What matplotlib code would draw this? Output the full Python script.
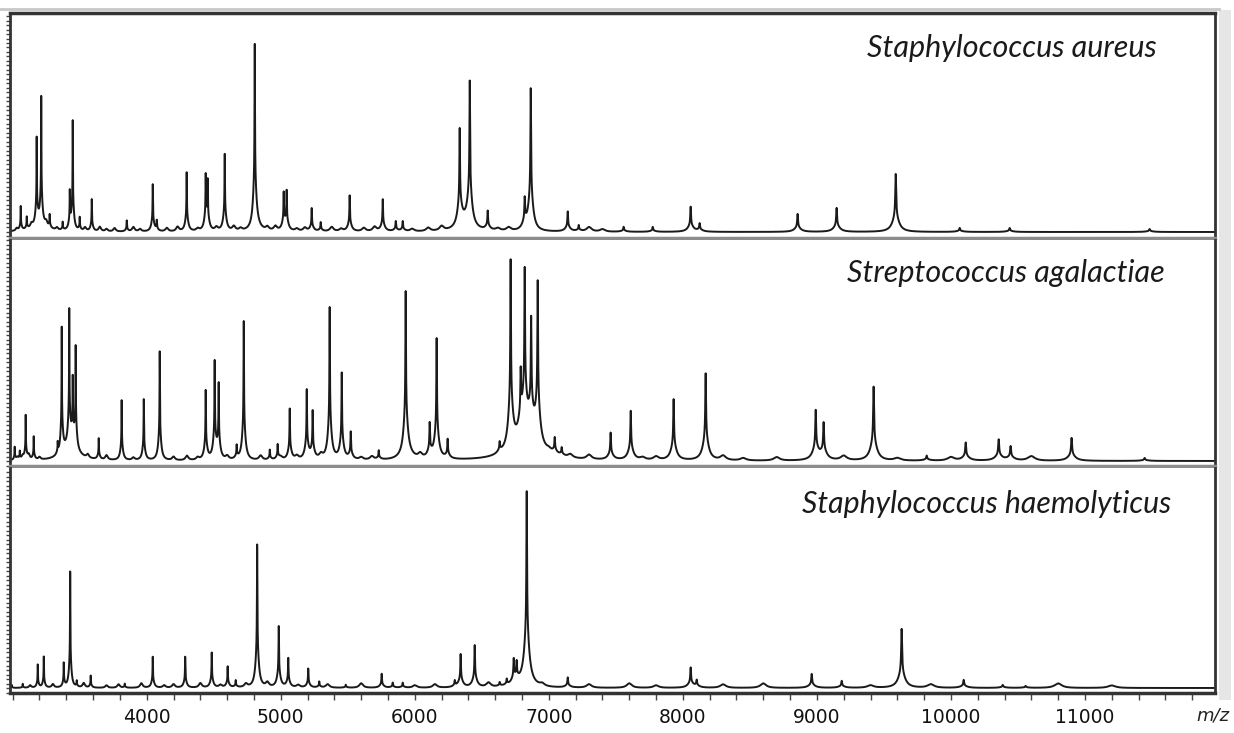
import matplotlib

matplotlib.use("Agg")
import matplotlib.pyplot as plt
import numpy as np
from matplotlib.patches import Rectangle
from matplotlib.ticker import MultipleLocator


# peak lists: m/z and height (arbitrary units)
AUREUS_MZ = [3060, 3105, 3179, 3213, 3276, 3373, 3426, 3448, 3500, 3590, 3851, 4045, 4075,
             4298, 4440, 4455, 4582, 4806, 5022, 5044, 5231, 5298, 5514, 5761, 5858, 5910,
             6335, 6410, 6544, 6820, 6865, 7141, 7223, 7558, 7775, 8058, 8125, 8856, 9147,
             9588, 10065, 10438, 11482]
AUREUS_H = [24, 12, 85, 126, 13, 8, 36, 109, 13, 32, 11, 47, 10,
            59, 52, 46, 77, 184, 36, 38, 23, 9, 36, 32, 10, 10,
            96, 143, 19, 28, 142, 20, 6, 5, 5, 25, 8, 18, 24,
            58, 4, 4, 3]
AUREUS_SMALL = [3030, 3140, 3250, 3330, 3540, 3650, 3700, 3760, 3900, 3950, 4150, 4230,
                4380, 4520, 4650, 4700, 4900, 4960, 5120, 5180, 5380, 5450, 5620, 5700,
                5980, 6100, 6200, 6620, 6700, 7300, 7400]

AGALACTIAE_MZ = [3015, 3053, 3097, 3157, 3336, 3366, 3422, 3448, 3470, 3642, 3813, 3978, 4097,
                 4440, 4507, 4537, 4671, 4724, 4918, 4977, 5067, 5194, 5238, 5365, 5455, 5522,
                 5731, 5932, 6111, 6163, 6245, 6633, 6715, 6790, 6820, 6868, 6917, 7044, 7096,
                 7461, 7611, 7931, 8170, 8991, 9050, 9423, 9819, 10110, 10356, 10445, 10900,
                 11445]
AGALACTIAE_H = [13, 8, 44, 23, 11, 125, 133, 61, 100, 21, 60, 61, 109,
                69, 96, 73, 13, 139, 10, 15, 51, 69, 47, 152, 86, 27,
                9, 163, 33, 120, 19, 10, 187, 53, 158, 109, 159, 16, 8,
                27, 49, 61, 87, 49, 36, 74, 5, 18, 21, 14, 23,
                3]
AGALACTIAE_SMALL = [3035, 3075, 3120, 3200, 3560, 3700, 3900, 4200, 4300, 4380, 4600,
                    4850, 5000, 5120, 5300, 5600, 5680, 6040, 7000, 7160, 7300, 7700,
                    7800, 8300, 8450, 8700, 9200, 9600, 10000, 10600]

HAEMOLYTICUS_MZ = [2993, 3075, 3187, 3232, 3381, 3429, 3478, 3582, 3836, 4045, 4287, 4485,
                   4604, 4664, 4824, 4985, 5056, 5205, 5287, 5485, 5753, 5835, 5910, 6298,
                   6342, 6447, 6633, 6686, 6738, 6760, 6835, 7141, 8058, 8103, 8961, 9185,
                   9632, 10095, 10386, 10557]
HAEMOLYTICUS_H = [3, 4, 23, 31, 24, 116, 6, 12, 4, 31, 31, 35,
                  21, 7, 143, 61, 29, 19, 6, 3, 14, 5, 5, 6,
                  33, 42, 4, 6, 23, 18, 188, 10, 20, 7, 14, 7,
                  59, 8, 3, 2]
HAEMOLYTICUS_SMALL = [3130, 3300, 3530, 3700, 3790, 3960, 4130, 4200, 4400, 4550, 4740,
                      4900, 5130, 5350, 5600, 6000, 6150, 6550, 6950, 7300, 7600, 7800,
                      8300, 8600, 9400, 9850, 10800, 11200]

# broad humps under peak clusters: m/z, height, half width (Da)
AUREUS_HUMP_MZ = [3200, 6380, 4820]
AUREUS_HUMP_H = [8, 8, 4]
AUREUS_HUMP_W = [60, 60, 40]
AGALACTIAE_HUMP_MZ = [3430, 6830, 5940]
AGALACTIAE_HUMP_H = [15, 22, 6]
AGALACTIAE_HUMP_W = [60, 110, 50]
HAEMOLYTICUS_HUMP_MZ = [6830]
HAEMOLYTICUS_HUMP_H = [8]
HAEMOLYTICUS_HUMP_W = [50]

NAMES = ["Staphylococcus aureus", "Streptococcus agalactiae", "Staphylococcus haemolyticus"]
XTICKS = [4000, 5000, 6000, 7000, 8000, 9000, 10000, 11000]


def spectrum(mz, pos, height, small, hump_pos, hump_h, hump_w):
    y = np.zeros_like(mz)
    for p, h in zip(pos, height):
        g1 = 0.0004 * p
        g2 = 0.003 * p
        y += h * (0.72 / (1 + ((mz - p) / g1) ** 2) + 0.28 / (1 + ((mz - p) / g2) ** 2))
    for k, p in enumerate(small):
        h = 2.5 + (k % 3)
        y += h / (1 + ((mz - p) / (0.003 * p)) ** 2)
    for p, h, w in zip(hump_pos, hump_h, hump_w):
        y += h / (1 + ((mz - p) / w) ** 2)
    return y


W, H = 1234, 733
fig = plt.figure(figsize=(W / 100, H / 100), dpi=100)
fig.patch.set_facecolor("white")

# pixel rows of each panel (top, bottom) and baseline offset
panels = [(13, 238, 6), (240, 466, 5), (468, 693, 5)]
left, right = 10, 1215
mz = np.arange(2980, 11970, 0.25)
data = [
    (AUREUS_MZ, AUREUS_H, AUREUS_SMALL, AUREUS_HUMP_MZ, AUREUS_HUMP_H, AUREUS_HUMP_W),
    (AGALACTIAE_MZ, AGALACTIAE_H, AGALACTIAE_SMALL, AGALACTIAE_HUMP_MZ, AGALACTIAE_HUMP_H,
     AGALACTIAE_HUMP_W),
    (HAEMOLYTICUS_MZ, HAEMOLYTICUS_H, HAEMOLYTICUS_SMALL, HAEMOLYTICUS_HUMP_MZ,
     HAEMOLYTICUS_HUMP_H, HAEMOLYTICUS_HUMP_W),
]
text_right = [0.952, 0.958, 0.964]
text_base = [0.804, 0.814, 0.80]
text_size = [22, 22, 21.8]

for i, ((top, bot, off), d) in enumerate(zip(panels, data)):
    ax = fig.add_axes([left / W, (H - bot) / H, (right - left) / W, (bot - top) / H])
    y = spectrum(mz, *d)
    ax.plot(mz, y, color="#1a1a1a", lw=1.4)
    ax.set_xlim(2980, 11970)
    ax.set_ylim(-off, bot - top - off)
    ax.yaxis.set_major_locator(MultipleLocator(4.5))
    ax.tick_params(axis="y", direction="out", length=3, width=1, color="#444", labelleft=False)
    for s in ("left", "right"):
        ax.spines[s].set_color("#333333")
        ax.spines[s].set_linewidth(2)
    ax.spines["top"].set_visible(i == 0)
    ax.spines["top"].set_color("#333333")
    ax.spines["top"].set_linewidth(2.5)
    ax.spines["bottom"].set_linewidth(2.5)
    if i < 2:
        ax.spines["bottom"].set_color("#8c8c8c")
        ax.set_xticks([])
    else:
        ax.spines["bottom"].set_color("#333333")
        ax.xaxis.set_minor_locator(MultipleLocator(200))
        ax.set_xticks(XTICKS)
        ax.set_xticklabels([str(t) for t in XTICKS], fontsize=13.5, color="#111")
        ax.tick_params(axis="x", which="both", direction="out", length=5, width=1,
                       color="#444", pad=6)
    ax.text(text_right[i], text_base[i], NAMES[i], transform=ax.transAxes, ha="right",
            va="baseline", fontsize=text_size[i], style="italic", family="Lato", color="#1a1a1a")

fig.add_artist(Rectangle((1219 / W, (H - 700) / H), 12 / W, 690 / H, transform=fig.transFigure,
                         facecolor="#e6e6e6", edgecolor="none"))
fig.add_artist(plt.Line2D([0, 1219 / W], [(H - 9) / H] * 2, color="#c8c8c8", lw=2))
fig.text(1213 / W, (H - 715) / H, "m/z", ha="center", va="center", fontsize=13,
         style="italic", color="#222")

fig.savefig("out.png", dpi=100)
